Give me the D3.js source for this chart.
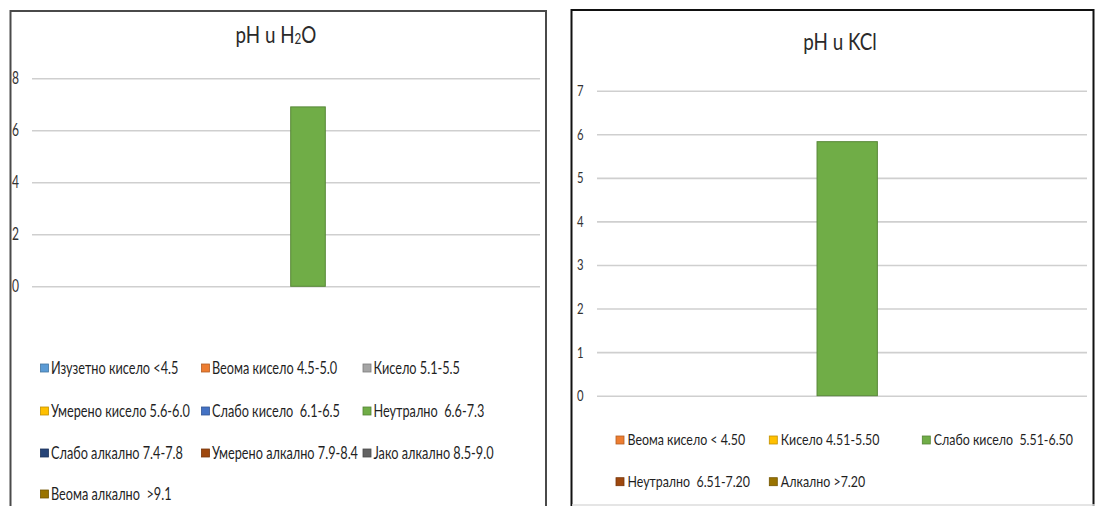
<!DOCTYPE html>
<html>
<head>
<meta charset="utf-8">
<script src="https://cdn.jsdelivr.net/npm/d3@7"></script>
<style>
  html, body { margin: 0; padding: 0; background: #fff; }
  svg { display: block; font-family: Lato, "Liberation Sans", sans-serif; }
  text { white-space: pre; }
</style>
</head>
<body>
<svg id="chart" width="1095" height="506"></svg>
<script>
// pH classes measured in water
const h2oClasses = [
  "Изузетно кисело <4.5", "Веома кисело 4.5-5.0", "Кисело 5.1-5.5",
  "Умерено кисело 5.6-6.0", "Слабо кисело  6.1-6.5", "Неутрално  6.6-7.3",
  "Слабо алкално 7.4-7.8", "Умерено алкално 7.9-8.4", "Јако алкално 8.5-9.0",
  "Веома алкално  >9.1"
];
const h2oValues = [null, null, null, null, null, 6.9, null, null, null, null];
const h2oTicks = [0, 2, 4, 6, 8];

// pH classes measured in KCl
const kclClasses = [
  "Веома кисело < 4.50", "Кисело 4.51-5.50", "Слабо кисело  5.51-6.50",
  "Неутрално  6.51-7.20", "Алкално >7.20"
];
const kclValues = [null, null, 5.83, null, null];
const kclTicks = [0, 1, 2, 3, 4, 5, 6, 7];

// series colours
const h2oPalette = ["#5B9BD5", "#ED7D31", "#A5A5A5", "#FFC000", "#4472C4",
                    "#70AD47", "#264478", "#9E480E", "#636363", "#997300"];
const kclPalette = ["#ED7D31", "#FFC000", "#70AD47", "#9E480E", "#997300"];

const svg = d3.select("#chart");

function drawPanel(cfg) {
  const g = svg.append("g");

  // frame
  g.append("path")
    .attr("d", cfg.frame)
    .attr("fill", "none")
    .attr("stroke", cfg.frameColor)
    .attr("stroke-width", 2);

  // title
  const t = g.append("text")
    .attr("transform", `translate(${cfg.titleX},${cfg.titleY}) scale(${cfg.titleSx},1)`)
    .attr("text-anchor", "middle")
    .attr("font-size", cfg.titleSize)
    .attr("fill", "#2a2a2a");
  cfg.titleParts.forEach(p => {
    const ts = t.append("tspan").text(p.text);
    if (p.sub) ts.attr("font-size", cfg.titleSize * 0.62).attr("dy", 1);
    else if (p.afterSub) ts.attr("dy", -1);
  });

  const y = d3.scaleLinear()
    .domain([0, d3.max(cfg.ticks)])
    .range([cfg.plotBottom, cfg.plotTop]);

  // gridlines and value labels
  const axis = d3.axisLeft(y)
    .tickValues(cfg.ticks)
    .tickSize(-(cfg.plotRight - cfg.plotLeft))
    .tickFormat(d3.format("d"));
  const ag = g.append("g")
    .attr("transform", `translate(${cfg.plotLeft},0)`)
    .call(axis);
  ag.select(".domain").remove();
  ag.selectAll(".tick line").attr("stroke", "#CFCFCF").attr("stroke-width", 1.6);
  ag.selectAll(".tick text")
    .attr("x", null)
    .attr("text-anchor", "start")
    .attr("transform", `translate(${cfg.tickLabelX - cfg.plotLeft},0) scale(${cfg.tickSx},1)`)
    .attr("font-size", cfg.tickSize)
    .attr("font-family", "Lato, 'Liberation Sans', sans-serif")
    .attr("fill", "#333");

  // bars: one category, one bar slot per pH class
  const xs = d3.scaleBand()
    .domain(cfg.classes)
    .range([cfg.groupLeft, cfg.groupRight])
    .padding(0);
  const rows = cfg.classes.map((c, i) => ({ c, v: cfg.values[i], color: cfg.palette[i] }));
  g.selectAll("rect.bar")
    .data(rows.filter(d => d.v != null))
    .join("rect")
    .attr("class", "bar")
    .attr("x", d => xs(d.c))
    .attr("width", xs.bandwidth())
    .attr("y", d => y(d.v))
    .attr("height", d => y(0) - y(d.v))
    .attr("fill", d => d.color)
    .attr("stroke", d => d3.color(d.color).darker(0.7))
    .attr("stroke-width", 1);

  // legend
  const lg = g.selectAll("g.item")
    .data(rows)
    .join("g")
    .attr("class", "item")
    .attr("transform", (d, i) => {
      const col = i % cfg.legendCols.length;
      const row = Math.floor(i / cfg.legendCols.length);
      return `translate(${cfg.legendCols[col]},${cfg.legendRows[row]})`;
    });
  lg.append("rect")
    .attr("x", 0).attr("y", -4)
    .attr("width", 8).attr("height", 8)
    .attr("fill", d => d.color)
    .attr("stroke", d => d3.color(d.color).darker(0.8))
    .attr("stroke-width", 0.8);
  lg.append("text")
    .attr("transform", `translate(${cfg.legendTextGap},0) scale(${cfg.legendSx},1)`)
    .attr("dy", "0.35em")
    .attr("font-size", cfg.legendSize)
    .attr("fill", "#1f1f1f")
    .text(d => d.c);
}

drawPanel({
  frame: "M10.5,507 L10.5,11 L546,11 L546,507",
  frameColor: "#4a4a4a",
  titleParts: [{ text: "pH u H" }, { text: "2", sub: true }, { text: "O", afterSub: true }],
  titleX: 276, titleY: 43, titleSize: 23.5, titleSx: 0.8,
  ticks: h2oTicks,
  plotLeft: 32, plotRight: 540, plotTop: 78.3, plotBottom: 286.3,
  tickLabelX: 12, tickSize: 16.5, tickSx: 0.73,
  classes: h2oClasses, values: h2oValues, palette: h2oPalette,
  groupLeft: 117.7, groupRight: 463.7,
  legendCols: [40.5, 201.5, 363], legendRows: [368, 411, 453, 494],
  legendTextGap: 10.5, legendSize: 16.5, legendSx: 0.77
});

drawPanel({
  frame: "M571.5,506 L571.5,10 L1093.5,10 L1093.5,506",
  frameColor: "#111",
  titleParts: [{ text: "pH u KCl" }],
  titleX: 840, titleY: 49.5, titleSize: 23.5, titleSx: 0.8,
  ticks: kclTicks,
  plotLeft: 597, plotRight: 1087, plotTop: 90.7, plotBottom: 395.7,
  tickLabelX: 577, tickSize: 15.5, tickSx: 0.73,
  classes: kclClasses, values: kclValues, palette: kclPalette,
  groupLeft: 696.4, groupRight: 998,
  legendCols: [616, 769.3, 922.3], legendRows: [440, 481.7],
  legendTextGap: 11.5, legendSize: 15.5, legendSx: 0.8
});

// lower edge of the KCl panel
svg.append("line")
  .attr("x1", 572).attr("x2", 1095)
  .attr("y1", 505).attr("y2", 505)
  .attr("stroke", "#DDD").attr("stroke-width", 1.5);
</script>
</body>
</html>
